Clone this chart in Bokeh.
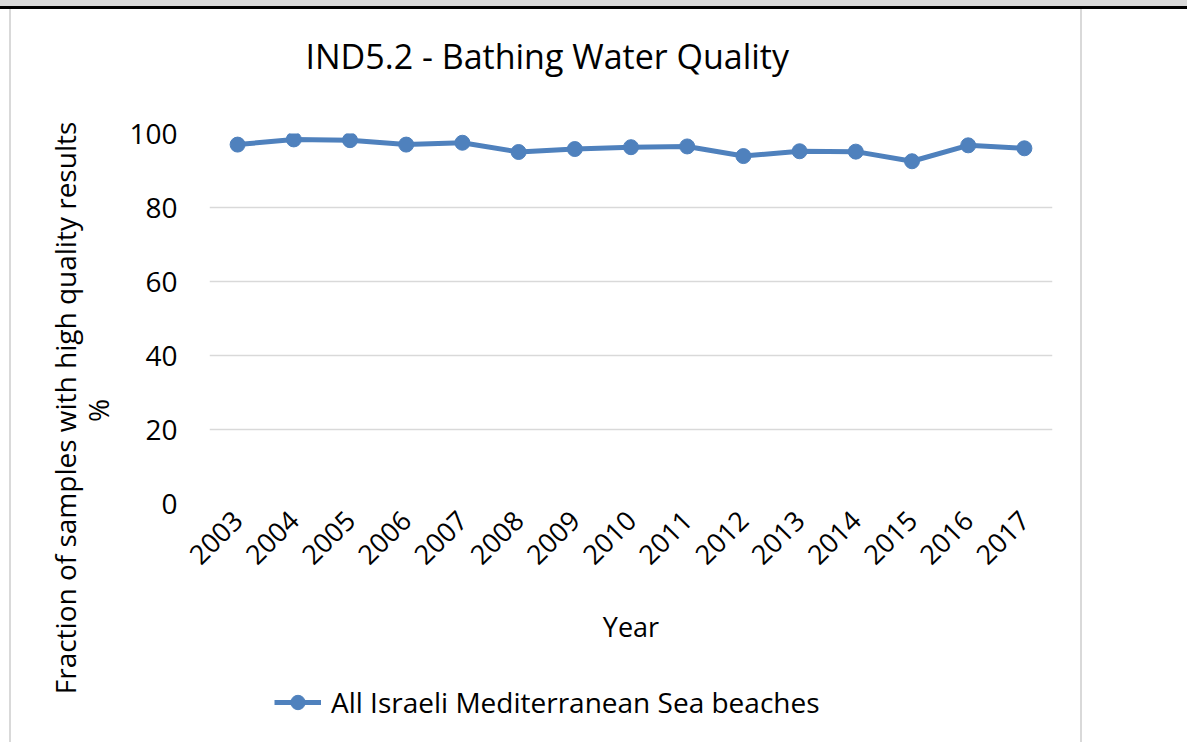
import math
from bokeh.plotting import figure
from bokeh.models import ColumnDataSource, Legend, LegendItem, FactorRange, Title, Label
from bokeh.layouts import column, row
from bokeh.embed import file_html
from bokeh.resources import INLINE

years = ["2003", "2004", "2005", "2006", "2007", "2008", "2009", "2010",
         "2011", "2012", "2013", "2014", "2015", "2016", "2017"]
values = [97.0, 98.4, 98.2, 97.0, 97.5, 95.0, 95.8, 96.3,
          96.5, 93.9, 95.2, 95.1, 92.5, 96.8, 96.0]
y_ticks = [0, 20, 40, 60, 80, 100]
series_name = "All Israeli Mediterranean Sea beaches"
title_text = "IND5.2 - Bathing Water Quality"
y_label_1 = "Fraction of samples with high quality results"
y_label_2 = "%"
x_label = "Year"

FONT = "Open Sans"
BLUE = "#4f81bd"
GRID = "#d9d9d9"
G = "rgb(217,217,217)"
T = "rgba(0,0,0,0)"


def vlines(left=None, right=None):
    stops = []
    for x in (left, right):
        if x is not None:
            stops.append(f"{T} {x}px, {G} {x}px, {G} {x + 2}px, {T} {x + 2}px")
    return "linear-gradient(to right, " + ", ".join(stops) + ")"


def clean(fig):
    fig.border_fill_color = None
    fig.background_fill_color = None
    fig.outline_line_color = None
    fig.grid.visible = False


src = ColumnDataSource(dict(x=years, y=values))

# ---- title strip -------------------------------------------------------
top = figure(width=1187, height=113, output_backend="svg", toolbar_location=None,
             x_axis_location=None, y_axis_location=None,
             min_border_left=209, min_border_right=135, min_border_top=78, min_border_bottom=0)
clean(top)
top.title = Title(text=title_text, text_font=FONT, text_font_size="34px",
                  text_font_style="normal", text_color="black", align="left",
                  offset=96, standoff=0)
top.styles = {
    "background-color": "white",
    "background-image": (vlines(9, 1080) + ", linear-gradient(to bottom, " +
                         f"{G} 0px, {G} 6px, rgb(0,0,0) 6px, rgb(0,0,0) 9px, {T} 9px)"),
    "background-size": "100% calc(100% - 9px), 100% 100%",
    "background-position": "0 9px, 0 0",
    "background-repeat": "no-repeat",
}

# ---- y axis title strip ------------------------------------------------
ylab = figure(width=120, height=629, x_range=(0, 120), y_range=(0, 629),
              output_backend="svg", toolbar_location=None,
              x_axis_location=None, y_axis_location=None,
              min_border_left=0, min_border_right=0, min_border_top=0, min_border_bottom=0)
clean(ylab)
ylab.styles = {"background-color": "white", "background-image": vlines(9, None)}
ylab.add_layout(Label(x=64, y=334.5, text=y_label_1, angle=math.pi / 2, text_font=FONT,
                      text_font_size="28px", text_align="center", text_baseline="middle",
                      text_color="black"))
ylab.add_layout(Label(x=97, y=332, text=y_label_2, angle=math.pi / 2, text_font=FONT,
                      text_font_size="28px", text_align="center", text_baseline="middle",
                      text_color="black"))

# ---- main chart --------------------------------------------------------
p = figure(width=1067, height=547, x_range=FactorRange(*years), y_range=(0, 100),
           output_backend="svg", toolbar_location=None,
           min_border_left=89, min_border_right=135, min_border_top=20, min_border_bottom=157)
p.border_fill_color = None
p.background_fill_color = None
p.outline_line_color = None
p.styles = {"background-color": "white", "background-image": vlines(None, 960)}

ln = p.line("x", "y", source=src, line_color=BLUE, line_width=5)
sc = p.scatter("x", "y", source=src, size=15, fill_color=BLUE, line_color=BLUE)

p.xgrid.grid_line_color = None
p.ygrid.grid_line_color = GRID
p.ygrid.grid_line_width = 1.5
p.yaxis.ticker = y_ticks
p.yaxis.axis_line_color = None
p.yaxis.major_tick_line_color = None
p.yaxis.minor_tick_line_color = None
p.yaxis.major_label_standoff = 26
p.yaxis.major_label_text_font = FONT
p.yaxis.major_label_text_font_size = "28px"
p.yaxis.major_label_text_color = "black"

p.xaxis.axis_line_color = None
p.xaxis.major_tick_line_color = None
p.xaxis.major_label_orientation = math.pi / 4
p.xaxis.major_label_standoff = 6
p.xaxis.major_label_text_font = FONT
p.xaxis.major_label_text_font_size = "27px"
p.xaxis.major_label_text_color = "black"
p.xaxis.axis_label = x_label
p.xaxis.axis_label_text_font = FONT
p.xaxis.axis_label_text_font_size = "27px"
p.xaxis.axis_label_text_font_style = "normal"
p.xaxis.axis_label_text_color = "black"
p.xaxis.axis_label_standoff = 32

# ---- legend strip ------------------------------------------------------
leg = figure(width=1067, height=82, x_range=FactorRange(*years), y_range=(200, 300),
             output_backend="svg", toolbar_location=None,
             x_axis_location=None, y_axis_location=None,
             min_border_left=0, min_border_right=0, min_border_top=0, min_border_bottom=0)
clean(leg)
leg.styles = {"background-color": "white", "background-image": vlines(None, 960)}
ln2 = leg.line("x", "y", source=src, line_color=BLUE, line_width=5)
sc2 = leg.scatter("x", "y", source=src, size=15, fill_color=BLUE, line_color=BLUE)
legend = Legend(items=[LegendItem(label=series_name, renderers=[ln2, sc2])],
                location=(65, 21), orientation="horizontal",
                label_text_font=FONT, label_text_font_size="28px", label_text_color="black",
                glyph_width=47, glyph_height=36, border_line_color=None,
                background_fill_alpha=0, label_standoff=10, padding=0, margin=0)
leg.add_layout(legend)

layout = column(top, row(ylab, column(p, leg, spacing=0), spacing=0), spacing=0)

open("out.html", "w").write(file_html(layout, INLINE))
